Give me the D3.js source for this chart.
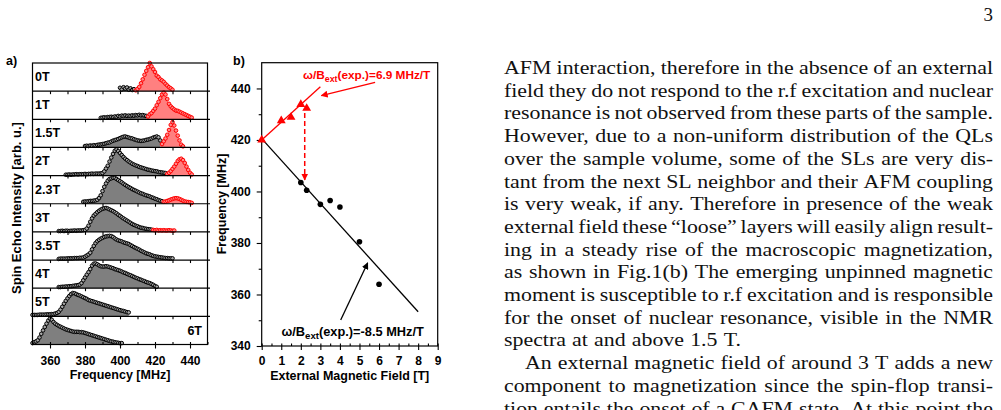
<!DOCTYPE html>
<html>
<head>
<meta charset="utf-8">
<script src="https://cdn.jsdelivr.net/npm/d3@7"></script>
<style>
  body { margin: 0; background: #fff; }
  svg { display: block; }
</style>
</head>
<body>
<svg id="page" width="1001" height="410"></svg>
<script>
// ---- panel a: spin echo spectra, one value per MHz (black part, then red part)
var fields = ["0T", "1T", "1.5T", "2T", "2.3T", "3T", "3.5T", "4T", "5T", "6T"]
var blackStart = [400, 389, 380, 369, 379, 365, 365, 365, 350, 350]
var redStart = [409, 416, 424, 427, 425, 419, 0, 0, 0, 0]

var black0T = [0.12, 0.06, 0.14, 0.09, 0.13, 0.05, 0.1, 0.04, 0.07]
var red0T = [0.03, 0.08, 0.15, 0.28, 0.42, 0.58, 0.72, 0.85, 1.0, 0.88, 0.78, 0.68, 0.55, 0.5, 0.42, 0.38, 0.33, 0.26, 0.2, 0.14, 0.1, 0.05]
var black1T = [0.05, 0.06, 0.07, 0.06, 0.08, 0.08, 0.09, 0.08, 0.1, 0.09, 0.12, 0.1, 0.13, 0.12, 0.14, 0.12, 0.13, 0.12, 0.14, 0.13, 0.15, 0.14, 0.16, 0.14, 0.15, 0.13, 0.12]
var red1T = [0.1, 0.18, 0.22, 0.3, 0.38, 0.5, 0.62, 0.75, 0.88, 0.95, 0.88, 0.72, 0.55, 0.46, 0.4, 0.35, 0.31, 0.3, 0.27, 0.24, 0.21, 0.18, 0.15, 0.12, 0.09, 0.06]
var black15T = [0.05, 0.06, 0.05, 0.07, 0.06, 0.08, 0.07, 0.09, 0.1, 0.11, 0.12, 0.13, 0.15, 0.17, 0.18, 0.21, 0.24, 0.26, 0.28, 0.3, 0.33, 0.36, 0.38, 0.39, 0.37, 0.35, 0.33, 0.32, 0.29, 0.27, 0.25, 0.24, 0.23, 0.24, 0.25, 0.27, 0.28, 0.3, 0.32, 0.35, 0.37, 0.39, 0.36, 0.25]
var red15T = [0.12, 0.22, 0.32, 0.45, 0.62, 0.8, 0.9, 0.78, 0.6, 0.42, 0.25, 0.1, 0.04]
var black2T = [0.03, 0.03, 0.04, 0.03, 0.04, 0.04, 0.05, 0.04, 0.05, 0.05, 0.05, 0.06, 0.05, 0.06, 0.06, 0.07, 0.06, 0.07, 0.07, 0.07, 0.08, 0.09, 0.15, 0.25, 0.35, 0.5, 0.64, 0.77, 0.88, 0.93, 0.87, 0.8, 0.73, 0.66, 0.6, 0.55, 0.5, 0.46, 0.42, 0.39, 0.36, 0.34, 0.31, 0.29, 0.27, 0.25, 0.23, 0.21, 0.2, 0.18, 0.17, 0.16, 0.15, 0.13, 0.12, 0.11, 0.1, 0.09]
var red2T = [0.06, 0.1, 0.16, 0.24, 0.32, 0.42, 0.52, 0.58, 0.6, 0.55, 0.45, 0.32, 0.2, 0.1, 0.04]
var black23T = [0.07, 0.08, 0.08, 0.09, 0.1, 0.1, 0.11, 0.12, 0.14, 0.2, 0.3, 0.45, 0.6, 0.72, 0.82, 0.88, 0.9, 0.92, 0.92, 0.88, 0.84, 0.8, 0.76, 0.71, 0.67, 0.63, 0.59, 0.56, 0.52, 0.49, 0.46, 0.43, 0.4, 0.37, 0.35, 0.32, 0.3, 0.28, 0.26, 0.23, 0.21, 0.18, 0.16, 0.13, 0.11, 0.09]
var red23T = [0.07, 0.08, 0.1, 0.12, 0.15, 0.17, 0.19, 0.2, 0.19, 0.17, 0.14, 0.11, 0.08, 0.07, 0.06, 0.05, 0.03]
var black3T = [0.03, 0.03, 0.04, 0.03, 0.04, 0.04, 0.03, 0.04, 0.04, 0.05, 0.04, 0.05, 0.05, 0.05, 0.06, 0.07, 0.12, 0.22, 0.36, 0.48, 0.58, 0.64, 0.7, 0.75, 0.79, 0.82, 0.84, 0.85, 0.83, 0.8, 0.77, 0.74, 0.7, 0.66, 0.61, 0.57, 0.52, 0.48, 0.44, 0.4, 0.36, 0.32, 0.28, 0.25, 0.22, 0.2, 0.17, 0.15, 0.14, 0.12, 0.11, 0.1, 0.09, 0.08]
var red3T = [0.07, 0.06, 0.07, 0.05, 0.06, 0.05, 0.06, 0.05, 0.05, 0.06, 0.05, 0.04, 0.05]
var black35T = [0.04, 0.05, 0.05, 0.05, 0.05, 0.06, 0.06, 0.06, 0.06, 0.07, 0.07, 0.07, 0.08, 0.08, 0.09, 0.12, 0.16, 0.2, 0.26, 0.38, 0.5, 0.6, 0.67, 0.72, 0.76, 0.79, 0.82, 0.84, 0.85, 0.86, 0.85, 0.82, 0.77, 0.73, 0.7, 0.68, 0.66, 0.63, 0.61, 0.59, 0.57, 0.53, 0.5, 0.46, 0.43, 0.4, 0.37, 0.33, 0.3, 0.27, 0.24, 0.22, 0.2, 0.17, 0.15, 0.13, 0.12, 0.11, 0.1, 0.09, 0.08, 0.07, 0.07, 0.06, 0.06, 0.06]
var black4T = [0.04, 0.04, 0.05, 0.05, 0.06, 0.06, 0.07, 0.07, 0.08, 0.09, 0.1, 0.11, 0.13, 0.18, 0.28, 0.38, 0.48, 0.57, 0.68, 0.8, 0.87, 0.88, 0.85, 0.81, 0.78, 0.77, 0.77, 0.78, 0.77, 0.75, 0.73, 0.71, 0.68, 0.66, 0.64, 0.62, 0.59, 0.56, 0.54, 0.51, 0.48, 0.46, 0.43, 0.4, 0.37, 0.35, 0.32, 0.3, 0.27, 0.25, 0.22, 0.2, 0.18, 0.15, 0.12, 0.08, 0.05]
var black5T = [0.05, 0.05, 0.05, 0.05, 0.06, 0.06, 0.06, 0.06, 0.07, 0.07, 0.07, 0.08, 0.08, 0.1, 0.12, 0.16, 0.24, 0.34, 0.45, 0.55, 0.64, 0.72, 0.79, 0.83, 0.82, 0.79, 0.76, 0.74, 0.71, 0.68, 0.65, 0.62, 0.58, 0.56, 0.54, 0.52, 0.5, 0.48, 0.46, 0.44, 0.42, 0.4, 0.38, 0.36, 0.34, 0.32, 0.3, 0.28, 0.26, 0.24, 0.22, 0.2, 0.19, 0.17, 0.15, 0.14]
var black6T = [0.05, 0.08, 0.11, 0.15, 0.25, 0.38, 0.5, 0.62, 0.74, 0.85, 0.92, 0.88, 0.8, 0.74, 0.7, 0.66, 0.63, 0.6, 0.57, 0.54, 0.52, 0.5, 0.48, 0.46, 0.45, 0.45, 0.45, 0.44, 0.44, 0.43, 0.41, 0.39, 0.37, 0.35, 0.33, 0.31, 0.29, 0.27, 0.25, 0.23, 0.21, 0.19, 0.17, 0.15, 0.13, 0.11, 0.1, 0.08, 0.07, 0.06, 0.05, 0.05]

var blackSets = [black0T, black1T, black15T, black2T, black23T, black3T, black35T, black4T, black5T, black6T]
var redSets = [red0T, red1T, red15T, red2T, red23T, red3T, [], [], [], []]
var freqTicks = [360, 380, 400, 420, 440]

// ---- panel b: line position vs external field
var redField = [0, 1, 1.5, 2, 2.3]
var redFreq = [420, 427.5, 428.8, 433.8, 432.3]
var blackField = [2, 2.3, 3, 3.5, 4, 5, 6]
var blackFreq = [403.5, 400.5, 395, 396.5, 394, 380.5, 364]
var redFit = [[0, 420], [3, 440.7]]
var blackFit = [[0, 420.5], [8, 353.3]]
var fieldTicks = [0, 1, 2, 3, 4, 5, 6, 7, 8, 9]
var bFreqTicks = [340, 360, 380, 400, 420, 440]

// ---- page text
var bodyLines = [
  "AFM interaction, therefore in the absence of an external",
  "field they do not respond to the r.f excitation and nuclear",
  "resonance is not observed from these parts of the sample.",
  "However, due to a non-uniform distribution of the QLs",
  "over the sample volume, some of the SLs are very dis-",
  "tant from the next SL neighbor and their AFM coupling",
  "is very weak, if any.  Therefore in presence of the weak",
  "external field these \u201cloose\u201d layers will easily align result-",
  "ing in a steady rise of the macroscopic magnetization,",
  "as shown in Fig.1(b) The emerging unpinned magnetic",
  "moment is susceptible to r.f excitation and is responsible",
  "for the onset of nuclear resonance, visible in the NMR",
  "spectra at and above 1.5 T.",
  "An external magnetic field of around 3 T adds a new",
  "component to magnetization since the spin-flop transi-",
  "tion entails the onset of a CAFM state. At this point the"
]

var sans = '"Liberation Sans", Arial, sans-serif'
var serif = '"Liberation Serif", "Times New Roman", serif'
var svg = d3.select("#page")

function pts(start, vals) {
  return vals.map(function(v, i) { return [start + i, v] })
}

// ================= panel a =================
var ax = d3.scaleLinear().domain([350, 450]).range([32.5, 207.5])
var aTop = 63, aBottom = 344.5
var rowH = (aBottom - aTop) / fields.length
var gA = svg.append("g")

fields.forEach(function(name, i) {
  var top = aTop + i * rowH
  var y = d3.scaleLinear().domain([0, 1]).range([top + rowH, top])
  var black = pts(blackStart[i], blackSets[i])
  var red = pts(redStart[i], redSets[i])
  var area = d3.area().x(function(d) { return ax(d[0]) }).y0(y(0)).y1(function(d) { return y(d[1]) })

  gA.append("path").attr("d", area(black)).attr("fill", "#7f7f7f")
  if (red.length)
    gA.append("path").attr("d", area([black[black.length - 1]].concat(red))).attr("fill", "#ff8080")

  gA.append("g").selectAll("circle").data(black).join("circle")
    .attr("cx", function(d) { return ax(d[0]) })
    .attr("cy", function(d) { return y(d[1]) })
    .attr("r", 1.8).attr("fill", "#a8a8a8").attr("stroke", "#000").attr("stroke-width", 1)
  gA.append("g").selectAll("circle").data(red).join("circle")
    .attr("cx", function(d) { return ax(d[0]) })
    .attr("cy", function(d) { return y(d[1]) })
    .attr("r", 1.8).attr("fill", "#ff8a8a").attr("stroke", "#ff0000").attr("stroke-width", 1)

  // separator with inward ticks
  if (i > 0) {
    gA.append("line").attr("x1", 32.5).attr("x2", 210).attr("y1", top).attr("y2", top)
      .attr("stroke", "#000").attr("stroke-width", 1.2)
    gA.append("g").attr("transform", "translate(0," + top + ")")
      .call(d3.axisTop(ax).tickValues(d3.range(360, 450, 10)).tickSize(-3).tickFormat(""))
      .call(function(g) { g.select(".domain").remove() })
      .selectAll("line").attr("stroke-width", 1)
  }

  var last = i == fields.length - 1
  gA.append("text")
    .attr("x", last ? 202 : 35).attr("y", top + (last ? 19 : 18))
    .attr("text-anchor", last ? "end" : "start")
    .attr("font-family", sans).attr("font-weight", "bold").attr("font-size", 12.5)
    .text(name)
})

gA.append("rect").attr("x", 32.5).attr("y", aTop).attr("width", 175).attr("height", aBottom - aTop)
  .attr("fill", "none").attr("stroke", "#000").attr("stroke-width", 1.2)

gA.append("g").attr("transform", "translate(0," + aBottom + ")")
  .call(d3.axisBottom(ax).tickValues(d3.range(350, 451, 10)).tickSize(-2.5).tickFormat(""))
  .call(function(g) { g.select(".domain").remove() })
gA.append("g").attr("transform", "translate(0," + aBottom + ")")
  .call(d3.axisBottom(ax).tickValues(freqTicks).tickSize(4).tickPadding(8))
  .call(function(g) { g.select(".domain").remove() })
  .selectAll("text").attr("font-family", sans).attr("font-weight", "bold").attr("font-size", 12)
gA.selectAll(".tick line").attr("stroke-width", 1.1)

gA.append("text").attr("x", 120).attr("y", 379).attr("text-anchor", "middle")
  .attr("font-family", sans).attr("font-weight", "bold").attr("font-size", 12.5)
  .text("Frequency [MHz]")
gA.append("text").attr("transform", "translate(20.5,208) rotate(-90)").attr("text-anchor", "middle")
  .attr("font-family", sans).attr("font-weight", "bold").attr("font-size", 13)
  .text("Spin Echo Intensity [arb. u.]")
gA.append("text").attr("x", 6).attr("y", 65)
  .attr("font-family", sans).attr("font-weight", "bold").attr("font-size", 12.5).text("a)")

// ================= panel b =================
var bx = d3.scaleLinear().domain([0, 9]).range([261.7, 437.7])
var by = d3.scaleLinear().domain([340, 450]).range([346, 62.7])
var gB = svg.append("g")

var defs = svg.append("defs")
;[["arrRed", "#ff0000"], ["arrBlack", "#000"]].forEach(function(m) {
  defs.append("marker").attr("id", m[0]).attr("viewBox", "0 0 10 10")
    .attr("refX", 9).attr("refY", 5).attr("markerWidth", 7).attr("markerHeight", 7)
    .attr("markerUnits", "userSpaceOnUse").attr("orient", "auto")
    .append("path").attr("d", "M0,0 L10,5 L0,10 Z").attr("fill", m[1])
})

gB.append("rect").attr("x", bx(0)).attr("y", by(450)).attr("width", bx(9) - bx(0)).attr("height", by(340) - by(450))
  .attr("fill", "none").attr("stroke", "#000").attr("stroke-width", 1.2)

gB.append("g").attr("transform", "translate(0," + by(340) + ")")
  .call(d3.axisBottom(bx).tickValues(d3.range(0, 9.01, 0.5)).tickSize(-2.5).tickFormat(""))
  .call(function(g) { g.select(".domain").remove() })
gB.append("g").attr("transform", "translate(0," + by(340) + ")")
  .call(d3.axisBottom(bx).tickValues(fieldTicks).tickSize(4).tickPadding(6.5))
  .call(function(g) { g.select(".domain").remove() })
  .selectAll("text").attr("font-family", sans).attr("font-weight", "bold").attr("font-size", 12)
gB.append("g").attr("transform", "translate(" + bx(0) + ",0)")
  .call(d3.axisLeft(by).tickValues(d3.range(350, 450, 20)).tickSize(3).tickFormat(""))
  .call(function(g) { g.select(".domain").remove() })
gB.append("g").attr("transform", "translate(" + bx(0) + ",0)")
  .call(d3.axisLeft(by).tickValues(bFreqTicks).tickSize(5).tickPadding(6))
  .call(function(g) { g.select(".domain").remove() })
  .selectAll("text").attr("font-family", sans).attr("font-weight", "bold").attr("font-size", 12)
gB.selectAll(".tick line").attr("stroke-width", 1.1)

var line = d3.line().x(function(d) { return bx(d[0]) }).y(function(d) { return by(d[1]) })
gB.append("path").attr("d", line(blackFit)).attr("stroke", "#000").attr("stroke-width", 1.3).attr("fill", "none")
gB.append("path").attr("d", line(redFit)).attr("stroke", "#ff0000").attr("stroke-width", 1.3).attr("fill", "none")

gB.selectAll(".bdot").data(d3.zip(blackField, blackFreq)).join("circle").attr("class", "bdot")
  .attr("cx", function(d) { return bx(d[0]) }).attr("cy", function(d) { return by(d[1]) })
  .attr("r", 2.8).attr("fill", "#000")
gB.selectAll(".rtri").data(d3.zip(redField, redFreq)).join("path").attr("class", "rtri")
  .attr("transform", function(d) { return "translate(" + bx(d[0]) + "," + by(d[1]) + ")" })
  .attr("d", d3.symbol(d3.symbolTriangle, 34)).attr("fill", "#ff0000")

// dashed arrow 2.3 T red line -> black line
gB.append("line").attr("x1", bx(2.2)).attr("x2", bx(2.2)).attr("y1", by(430.5)).attr("y2", by(404.5))
  .attr("stroke", "#ff0000").attr("stroke-width", 1.5).attr("stroke-dasharray", "5,3")
  .attr("marker-end", "url(#arrRed)")
gB.append("line").attr("x1", bx(5.8)).attr("y1", by(442.4)).attr("x2", bx(3.05)).attr("y2", by(437.2))
  .attr("stroke", "#ff0000").attr("stroke-width", 1.3).attr("marker-end", "url(#arrRed)")
gB.append("line").attr("x1", bx(4.04)).attr("y1", by(350.1)).attr("x2", bx(5.42)).attr("y2", by(372.3))
  .attr("stroke", "#000").attr("stroke-width", 1.3).attr("marker-end", "url(#arrBlack)")

function slopeLabel(x, y, color, value, size) {
  var t = gB.append("text").attr("x", x).attr("y", y).attr("fill", color)
    .attr("font-family", sans).attr("font-weight", "bold").attr("font-size", size)
  t.append("tspan").text("\u03c9/B")
  t.append("tspan").attr("font-size", size * 0.75).attr("dy", 3).text("ext")
  t.append("tspan").attr("dy", -3).text("(exp.)=" + value + " MHz/T")
}
slopeLabel(303, 79, "#ff0000", "6.9", 11.8)
slopeLabel(281.5, 336, "#000", "-8.5", 12.8)

gB.append("text").attr("transform", "translate(225.5,204) rotate(-90)").attr("text-anchor", "middle")
  .attr("font-family", sans).attr("font-weight", "bold").attr("font-size", 12.5)
  .text("Frequency [MHz]")
gB.append("text").attr("x", 349.7).attr("y", 380).attr("text-anchor", "middle")
  .attr("font-family", sans).attr("font-weight", "bold").attr("font-size", 12.5)
  .text("External Magnetic Field [T]")
gB.append("text").attr("x", 233).attr("y", 65)
  .attr("font-family", sans).attr("font-weight", "bold").attr("font-size", 12.5).text("b)")

// ================= text column =================
// Liberation Serif is narrower than the original Computer Modern: widen each word
var colX = 504, colW = 489, lineH = 22.7, firstBase = 74, stretch = 1.15
var gT = svg.append("g").attr("font-family", serif).attr("font-size", 19).attr("fill", "#111")

gT.append("text").attr("x", 993).attr("y", 21).attr("text-anchor", "end").text("3")

bodyLines.forEach(function(str, i) {
  var indent = i == 13 ? 21 : 0
  var justify = i != 12
  var words = str.split(/ +/)
  var row = gT.append("g")
  var nodes = words.map(function(w) {
    return row.append("text").attr("y", firstBase + i * lineH).text(w)
  })
  var widths = nodes.map(function(n) {
    var w = n.node().getComputedTextLength() * stretch
    n.attr("textLength", w).attr("lengthAdjust", "spacingAndGlyphs")
    return w
  })
  var total = d3.sum(widths)
  var gap = justify ? (colW - indent - total) / (words.length - 1) : 6.2
  var x = colX + indent
  nodes.forEach(function(n, k) {
    n.attr("x", x)
    x += widths[k] + gap
  })
})
</script>
</body>
</html>
